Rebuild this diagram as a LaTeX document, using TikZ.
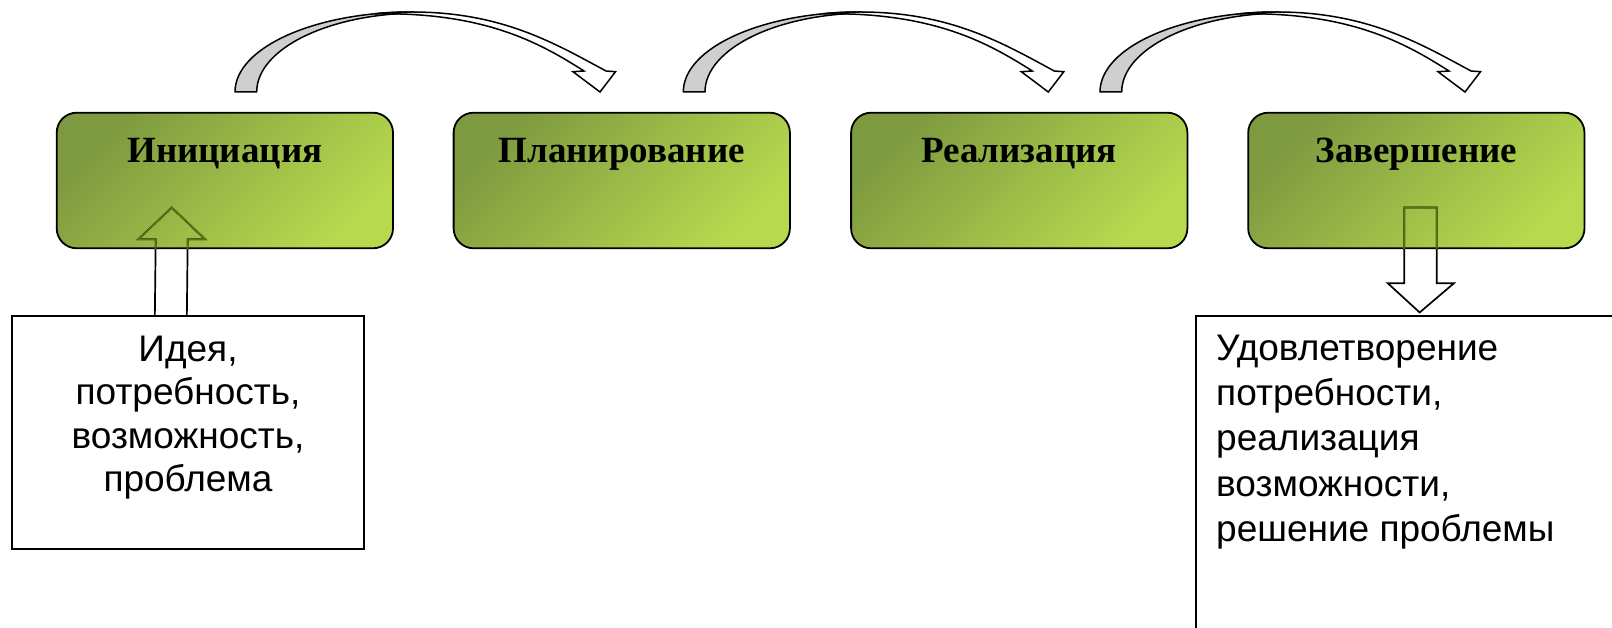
\documentclass[tikz,border=0pt]{standalone}
\usepackage{fontspec}
\setmainfont{Liberation Serif}
\newfontfamily\bodyfont{Liberation Sans}
\usetikzlibrary{calc}

\definecolor{gdark}{HTML}{7E9A40}
\definecolor{glight}{HTML}{B7D94E}
\definecolor{arrowgray}{HTML}{CFCFCF}
\definecolor{olivebrd}{HTML}{5C7214}

\tikzset{
  phase/.style={draw=black, line width=1.8pt, rounded corners=20pt,
    left color=gdark, right color=glight, shading angle=45,
    minimum width=336.3pt, inner sep=0pt, text height=50.3pt, text depth=85.3pt,
    font=\fontsize{37}{44}\selectfont\bfseries},
  infobox/.style={draw=black, line width=1.7pt, rectangle, inner sep=0pt},
  bodytext/.style={inner sep=0pt, font=\bodyfont\fontsize{37}{43.5}\selectfont},
  blockarrow/.style={draw=black, line width=1.7pt, line join=miter},
  bendarrow/.pic={
    % shaded underside of the ribbon
    \filldraw[fill=arrowgray, draw=black, line width=1.5pt, line join=round]
      (0,0) .. controls (0,-44.2) and (79.2,-80) .. (177,-80) -- (185,-79)
      .. controls (94.8,-79) and (21.7,-43.6) .. (21.7,0) -- cycle;
    % white upper face with the head
    \filldraw[fill=white, draw=black, line width=1.5pt, line join=miter]
      (140,-78.2) .. controls (152,-79.6) and (164,-80) .. (177,-80)
      .. controls (267,-80) and (320,-48.5) .. (371,-21)
      -- (380.5,-20.3) -- (365,0) -- (338,-20.3) -- (349,-21)
      .. controls (305,-49) and (250,-80) .. (140,-78.2) -- cycle;
  }
}

\begin{document}
\begin{tikzpicture}[x=1pt, y=-1pt]
  \useasboundingbox (0,0) rectangle (1612,628);

  % project phases
  \node[phase] (b1) at (224.85,180.5) {Инициация};
  \node[phase] (b2) at (621.75,180.5) {Планирование};
  \node[phase] (b3) at (1019.25,180.5) {Реализация};
  \node[phase] (b4) at (1416.35,180.5) {Завершение};

  % input and output boxes
  \node[infobox, minimum width=352.6pt, minimum height=233.3pt] (w1) at (188,432.65) {};
  \node[bodytext, align=center, anchor=north] (w1t) at (188,335.5)
    {Идея,\\потребность,\\возможность,\\проблема};
  \node[infobox, minimum width=444pt, minimum height=344pt] (w2) at (1418,488) {};
  \node[bodytext, align=left, anchor=north west, font=\bodyfont\fontsize{37}{45.2}\selectfont]
    (w2t) at (1216,334.8)
    {Удовлетворение\\потребности,\\реализация\\возможности,\\решение проблемы};

  % block arrow: input -> initiation
  \coordinate (upfoot) at ($(w1.north west)+(160,0)$);
  \coordinate (uptip) at ($(b1.south)+(-53.15,-41.6)$);
  \def\UpArrowPath{($(upfoot)+(-16,0)$) -- ($(uptip)+(-16,31.6)$) -- ($(uptip)+(-33.4,31.6)$)
    -- (uptip) -- ($(uptip)+(33.3,31.6)$) -- ($(uptip)+(16,31.6)$) -- ($(upfoot)+(16,0)$)}
  \draw[blockarrow] \UpArrowPath;
  \begin{scope}
    \clip[rounded corners=20pt] (b1.south west) rectangle (b1.north east);
    \draw[blockarrow, draw=olivebrd] \UpArrowPath;
  \end{scope}

  % block arrow: completion -> result
  \coordinate (dntop) at ($(b4.south)+(4.15,-41.6)$);
  \coordinate (dntip) at ($(w2.north west)+(224.5,-2.7)$);
  \def\DownArrowPath{($(dntop)+(-16.2,0)$) -- ($(dntop)+(16.2,0)$) -- ($(dntop)+(16.2,75.6)$)
    -- ($(dntop)+(33.5,75.6)$) -- (dntip) -- ($(dntop)+(-32.8,75.6)$)
    -- ($(dntop)+(-16.2,75.6)$) -- cycle}
  \draw[blockarrow] \DownArrowPath;
  \begin{scope}
    \clip[rounded corners=20pt] (b4.south west) rectangle (b4.north east);
    \draw[blockarrow, draw=olivebrd] \DownArrowPath;
  \end{scope}

  % curved transitions between phases
  \pic at (235,92) {bendarrow};
  \pic at (683.3,92) {bendarrow};
  \pic at (1100,92) {bendarrow};
\end{tikzpicture}
\end{document}
